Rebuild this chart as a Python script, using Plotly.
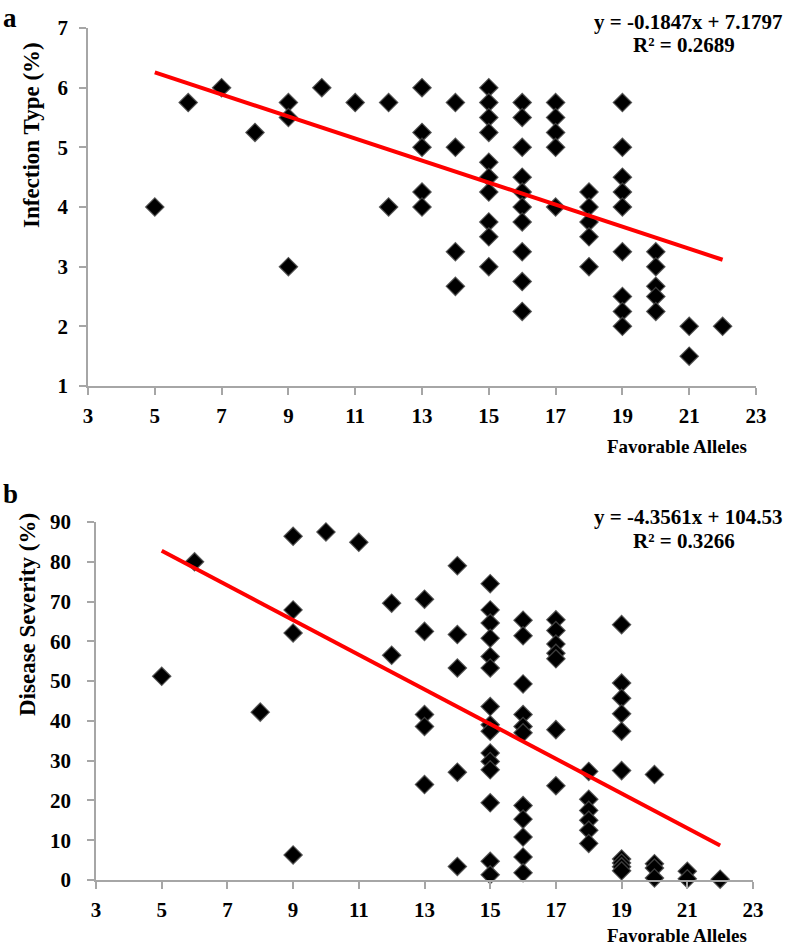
import plotly.graph_objects as go

# ---------------- data ----------------
# Panel a: Infection Type vs Favorable Alleles
it_alleles = [5, 6, 7, 8, 9, 9, 9, 10, 11, 12, 12,
              13, 13, 13, 13, 13, 14, 14, 14, 14,
              15, 15, 15, 15, 15, 15, 15, 15, 15, 15,
              16, 16, 16, 16, 16, 16, 16, 16, 16, 16,
              17, 17, 17, 17, 17, 18, 18, 18, 18, 18,
              19, 19, 19, 19, 19, 19, 19, 19, 19,
              20, 20, 20, 20, 20, 21, 21, 22]
it_values = [4.0, 5.75, 6.0, 5.25, 5.75, 5.5, 3.0, 6.0, 5.75, 5.75, 4.0,
             6.0, 5.25, 5.0, 4.25, 4.0, 5.75, 5.0, 3.25, 2.67,
             6.0, 5.75, 5.5, 5.25, 4.75, 4.5, 4.25, 3.75, 3.5, 3.0,
             5.75, 5.5, 5.0, 4.5, 4.25, 4.0, 3.75, 3.25, 2.75, 2.25,
             5.75, 5.5, 5.25, 5.0, 4.0, 4.25, 4.0, 3.75, 3.5, 3.0,
             5.75, 5.0, 4.5, 4.25, 4.0, 3.25, 2.5, 2.25, 2.0,
             3.25, 3.0, 2.67, 2.5, 2.25, 2.0, 1.5, 2.0]
it_slope, it_intercept, it_r2 = -0.1847, 7.1797, 0.2689

# Panel b: Disease Severity vs Favorable Alleles
ds_alleles = [5, 6, 8, 9, 9, 9, 9, 10, 11, 12, 12,
              13, 13, 13, 13, 13, 14, 14, 14, 14, 14,
              15, 15, 15, 15, 15, 15, 15, 15, 15, 15, 15, 15, 15, 15, 15,
              16, 16, 16, 16, 16, 16, 16, 16, 16, 16, 16,
              17, 17, 17, 17, 17, 17, 17,
              18, 18, 18, 18, 18, 18,
              19, 19, 19, 19, 19, 19, 19, 19, 19, 19,
              20, 20, 20, 20, 21, 21, 22]
ds_values = [51.2, 80.0, 42.2, 86.4, 67.9, 62.1, 6.3, 87.5, 84.9, 69.6, 56.5,
             70.6, 62.5, 41.6, 38.6, 24.0, 79.0, 61.7, 53.3, 27.1, 3.4,
             74.5, 67.9, 64.6, 60.8, 56.2, 53.3, 43.6, 39.0, 37.4, 31.9, 29.8, 27.7, 19.4, 4.7, 1.3,
             65.3, 61.4, 49.3, 41.6, 38.6, 37.0, 18.7, 15.3, 10.8, 5.8, 1.8,
             65.4, 62.7, 59.3, 57.0, 55.6, 37.8, 23.7,
             27.3, 20.3, 17.5, 15.0, 12.5, 9.2,
             64.2, 49.5, 45.7, 41.8, 37.4, 27.5, 5.3, 4.3, 3.3, 2.3,
             26.5, 4.1, 3.0, 0.5, 2.2, 0.3, 0.2]
ds_slope, ds_intercept, ds_r2 = -4.3561, 104.53, 0.3266

x_ticks = [3, 5, 7, 9, 11, 13, 15, 17, 19, 21, 23]

# ---------------- figure ----------------
W, H = 787, 948
FONT = "Liberation Serif"
AXC = "#a6a6a6"


def fx(p):
    return p / W


def fy(p):
    return 1 - p / H


fig = go.Figure()

marker = dict(symbol="diamond", size=14, color="black",
              line=dict(color="rgba(70,70,70,0.85)", width=1.3))

# panel a
xa = [min(it_alleles), max(it_alleles)]
fig.add_trace(go.Scatter(x=it_alleles, y=it_values, mode="markers", marker=marker,
                         xaxis="x", yaxis="y", cliponaxis=False, showlegend=False))
fig.add_trace(go.Scatter(x=xa, y=[it_slope * v + it_intercept for v in xa], mode="lines",
                         line=dict(color="#ff0000", width=4), xaxis="x", yaxis="y",
                         showlegend=False))

# panel b
xb = [min(ds_alleles), max(ds_alleles)]
fig.add_trace(go.Scatter(x=ds_alleles, y=ds_values, mode="markers", marker=marker,
                         xaxis="x2", yaxis="y2", cliponaxis=False, showlegend=False))
fig.add_trace(go.Scatter(x=xb, y=[ds_slope * v + ds_intercept for v in xb], mode="lines",
                         line=dict(color="#ff0000", width=4), xaxis="x2", yaxis="y2",
                         showlegend=False))

tickfont = dict(family=FONT, size=21, color="black", weight="bold")
common = dict(showline=True, linecolor=AXC, linewidth=1.5, ticks="outside", ticklen=7,
              tickcolor=AXC, tickwidth=1.5, showgrid=False, zeroline=False,
              tickfont=tickfont, fixedrange=True, automargin=False)

fig.update_layout(
    width=W, height=H,
    margin=dict(l=0, r=0, t=0, b=0, pad=0),
    paper_bgcolor="white", plot_bgcolor="white",
    xaxis=dict(domain=[fx(88), fx(756)], range=[3, 23], tickvals=x_ticks, anchor="y",
               ticklabelstandoff=3, **common),
    yaxis=dict(domain=[fy(386), fy(28)], range=[1, 7], dtick=1, anchor="x",
               ticklabelstandoff=7, **common),
    xaxis2=dict(domain=[fx(96), fx(753)], range=[3, 23], tickvals=x_ticks, anchor="y2",
                ticklabelstandoff=3, **common),
    yaxis2=dict(domain=[fy(880), fy(522)], range=[0, 90], dtick=10, anchor="x2",
                ticklabelstandoff=12, **common),
)

txt = dict(family=FONT, size=21, color="black")
title_font = dict(family=FONT, size=23, color="black")
xt_font = dict(family=FONT, size=19, color="black")
ann = []
# panel letters
ann.append(dict(text="<b>a</b>", x=fx(1), y=fy(1), xanchor="left", yanchor="top",
                font=dict(family=FONT, size=27, color="black")))
ann.append(dict(text="<b>b</b>", x=fx(1), y=fy(494), xanchor="left", yanchor="middle",
                font=dict(family=FONT, size=27, color="black")))
# equations
ann.append(dict(text=f"<b>y = {it_slope}x + {it_intercept}</b>", x=fx(784), y=fy(22),
                xanchor="right", yanchor="middle", font=txt))
ann.append(dict(text=f"<b>R² = {it_r2}</b>", x=fx(684), y=fy(45),
                xanchor="center", yanchor="middle", font=txt))
ann.append(dict(text=f"<b>y = {ds_slope}x + {ds_intercept}</b>", x=fx(784), y=fy(517),
                xanchor="right", yanchor="middle", font=txt))
ann.append(dict(text=f"<b>R² = {ds_r2}</b>", x=fx(684), y=fy(541),
                xanchor="center", yanchor="middle", font=txt))
# axis titles
ann.append(dict(text="<b>Favorable Alleles</b>", x=fx(677), y=fy(446),
                xanchor="center", yanchor="middle", font=xt_font))
ann.append(dict(text="<b>Favorable Alleles</b>", x=fx(677), y=fy(935),
                xanchor="center", yanchor="middle", font=xt_font))
ann.append(dict(text="<b>Infection Type (%)</b>", x=fx(32), y=fy(135), textangle=-90,
                xanchor="center", yanchor="middle", font=title_font))
ann.append(dict(text="<b>Disease Severity (%)</b>", x=fx(27), y=fy(615), textangle=-90,
                xanchor="center", yanchor="middle", font=title_font))
for a in ann:
    a.update(xref="paper", yref="paper", showarrow=False)
fig.update_layout(annotations=ann)

fig.write_html("out.html", config={"displayModeBar": False},
               post_script="document.body.style.margin='0px';document.body.style.overflow='hidden';")
